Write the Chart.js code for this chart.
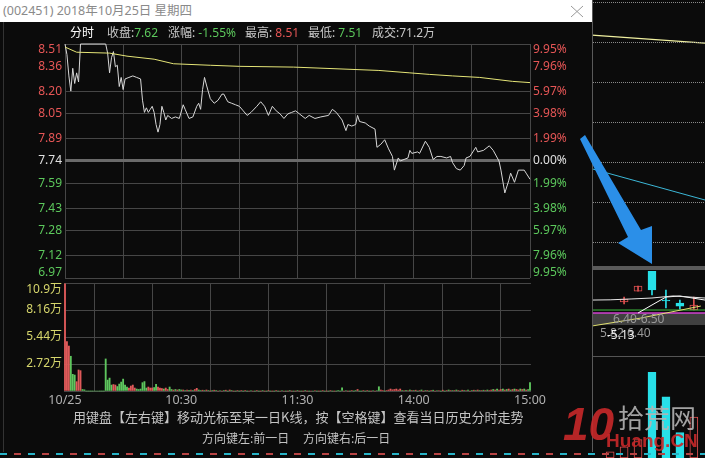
<!DOCTYPE html>
<html>
<head>
<meta charset="utf-8">
<script src="https://cdn.jsdelivr.net/npm/chart.js@4.4.0/dist/chart.umd.min.js"></script>
<style>
html, body { margin: 0; padding: 0; background: #0b0b0b; }
#stage { position: relative; width: 705px; height: 458px; overflow: hidden; background: #0b0b0b;
         font-family: "Noto Sans", "Noto Sans CJK SC", sans-serif; }
.abs { position: absolute; white-space: nowrap; }
.cw { position: absolute; }
#title { left: 0; top: 0; width: 592px; height: 22px; background: #fff; }
#titleText { left: 3px; top: 2px; font-size: 12.5px; line-height: 18px; color: #8a8a8a; }
.hd { top: 25px; font-size: 12px; line-height: 16px; color: #c8c8c8; }
.g { color: #5cc85c; }
.r { color: #e65656; }
.w { color: #ffffff; }
.tip { font-size: 13px; line-height: 18px; color: #c4c4c4; font-family: "Noto Sans CJK SC", sans-serif; }
.tip2 { font-size: 12px; line-height: 16px; color: #c4c4c4; font-family: "Noto Sans CJK SC", sans-serif; }
</style>
</head>
<body>
<div id="stage">
    <!-- background k-line panels on the right -->
    <div class="cw" style="left:592px;top:0;width:113px;height:268px"><canvas id="bgTop"></canvas></div>
    <div class="abs" style="left:592px;top:266px;width:113px;height:4px;background:#5a5a5a"></div>
    <div class="abs" style="left:592px;top:313px;width:113px;height:12px;background:rgba(110,110,110,0.55)"></div>
    <div class="cw" style="left:592px;top:271px;width:113px;height:85px"><canvas id="bgMid"></canvas></div>
    <div class="cw" style="left:592px;top:356px;width:113px;height:102px"><canvas id="bgVol"></canvas></div>
    <div class="abs" style="left:613px;top:311px;font-size:12px;line-height:16px;color:#9a9a9a">6.40-6.50</div>
    <div class="abs" style="left:600px;top:325px;font-size:12px;line-height:16px;color:#9a9a9a">5.82 6.40</div>
    <div class="abs" style="left:607px;top:327px;font-size:12px;line-height:16px;color:#f0f0f0">-5.13</div>

    <!-- popup -->
    <div class="abs" id="title"></div>
    <div class="abs" id="titleText">(002451) 2018年10月25日 星期四</div>
    <svg class="abs" style="left:0;top:0" width="705" height="458">
        <line x1="571" y1="6" x2="583" y2="17" stroke="#9a9a9a" stroke-width="1"/>
        <line x1="583" y1="6" x2="571" y2="17" stroke="#9a9a9a" stroke-width="1"/>
        <line x1="592.5" y1="0" x2="592.5" y2="452" stroke="#5a5a5a" stroke-width="1"/>
        <line x1="3.5" y1="22" x2="3.5" y2="452" stroke="#333" stroke-width="1"/>
    </svg>

    <div class="abs hd w" style="left:70px">分时</div>
    <div class="abs hd" style="left:107px">收盘:<span class="g">7.62</span></div>
    <div class="abs hd" style="left:168px">涨幅: <span class="g">-1.55%</span></div>
    <div class="abs hd" style="left:245px">最高: <span class="r">8.51</span></div>
    <div class="abs hd" style="left:308px">最低: <span class="g">7.51</span></div>
    <div class="abs hd" style="left:372px">成交:71.2万</div>

    <div class="cw" style="left:0;top:0;width:592px;height:458px"><canvas id="priceChart"></canvas></div>
    <div class="cw" style="left:0;top:0;width:592px;height:458px"><canvas id="volChart"></canvas></div>

    <div class="abs tip" style="left:73px;top:408px">用键盘【左右键】移动光标至某一日K线，按【空格键】查看当日历史分时走势</div>
    <div class="abs tip2" style="left:202px;top:430px">方向键左:前一日</div>
    <div class="abs tip2" style="left:303px;top:430px">方向键右:后一日</div>

    <div class="abs" style="left:0;top:453px;width:705px;height:2px;
        background:repeating-linear-gradient(90deg,#28b4c8 0 7px,transparent 7px 14px,#b84444 14px 21px,transparent 21px 28px)"></div>

    <!-- watermark -->
    <div class="abs" style="left:563px;top:398px;font-size:46px;line-height:52px;font-weight:bold;font-style:italic;color:#c8282a;opacity:0.9;font-family:'Liberation Sans',sans-serif">10</div>
    <div class="abs" style="left:618px;top:402px;font-size:26px;line-height:30px;color:#b4b4b4;font-family:'Noto Sans CJK SC',sans-serif;opacity:0.9">拾荒网</div>
    <div class="abs" style="left:606px;top:429px;font-size:19px;line-height:24px;font-weight:bold;color:#c8282a;font-family:'Liberation Sans',sans-serif;opacity:0.9">Huang.CN</div>

    <!-- arrow -->
    <svg class="abs" style="left:0;top:0" width="705" height="458">
        <polygon points="585,135 641,230 652,226 652,264 618,243 628,237 580,139" fill="#2b8fe8"/>
    </svg>
</div>

<script>
// intraday data, 002451 on 2018-10-25 (minutes after 9:30)
const preClose = 7.74;
const priceMin = [0, 1, 2, 3, 4, 5, 6, 7, 8, 21, 22, 23, 24, 25, 26, 27, 28, 29, 30, 31, 33, 35, 37, 39,
    40, 41, 42, 43, 44, 45, 46, 47, 48, 49, 50, 51, 52, 53, 55, 57, 59, 61, 62, 64, 66, 68, 69, 70,
    71, 72, 73, 75, 77, 79, 81, 82, 84, 86, 88, 90, 92, 94, 96, 99, 101, 103, 105, 107, 109, 111,
    113, 115, 117, 119, 121, 124, 126, 129, 132, 136, 138, 140, 143, 145, 146, 148, 150, 151, 152,
    155, 157, 160, 161, 163, 165, 167, 169, 170, 172, 173, 175, 177, 178, 179, 182, 183, 186, 188,
    190, 192, 194, 197, 199, 200, 202, 204, 206, 207, 209, 212, 213, 216, 219, 221, 224, 225, 227,
    229, 230, 232, 234, 237, 238, 240];
const priceVal = [8.51, 8.44, 8.30, 8.20, 8.35, 8.25, 8.32, 8.26, 8.51, 8.51, 8.45, 8.32, 8.42, 8.46,
    8.36, 8.37, 8.23, 8.29, 8.21, 8.28, 8.29, 8.30, 8.29, 8.28,
    8.14, 8.06, 8.09, 8.06, 8.08, 8.10, 8.06, 7.98, 7.93, 7.98, 8.10, 8.06, 8.01, 8.04, 8.02, 8.03,
    8.02, 8.11, 8.08, 8.02, 8.03, 8.10, 8.12, 8.08,
    8.21, 8.29, 8.24, 8.15, 8.12, 8.14, 8.18, 8.18, 8.13, 8.12, 8.11, 8.10, 8.07, 8.04, 8.06, 8.10,
    8.13, 8.10, 8.04, 8.10, 8.07, 8.05,
    8.02, 8.05, 8.06, 8.07, 8.05, 8.02, 8.04, 8.02, 8.03, 8.04, 8.08, 8.06, 8.01, 7.94, 7.98, 7.97,
    7.98, 8.04, 8.00,
    7.99, 7.97, 7.95, 7.83, 7.85, 7.88, 7.82, 7.77, 7.68, 7.76, 7.74, 7.75, 7.76, 7.81, 7.79, 7.80,
    7.79, 7.87, 7.83,
    7.75, 7.77, 7.77, 7.76, 7.77, 7.73, 7.69, 7.68, 7.71, 7.76, 7.77, 7.83, 7.80, 7.81, 7.84, 7.81,
    7.74, 7.68, 7.53,
    7.61, 7.66, 7.60, 7.68, 7.68, 7.66, 7.62];
const avgMin = [0, 6, 23, 32, 46, 56, 75, 90, 118, 162, 178, 188, 200, 214, 231, 240];
const avgVal = [8.49, 8.456, 8.45, 8.43, 8.41, 8.38, 8.37, 8.363, 8.358, 8.336, 8.32, 8.31, 8.30,
    8.29, 8.264, 8.256];

// volume per minute, in 万 shares
const volumes = [
    10.8, 4.97, 4.53, 3.5, 1.68, 1.61, 0.94, 2.12, 2.05, 0.15,
    0.12, 0, 0, 0, 0, 0, 0, 0, 0, 0,
    0, 3.23, 1.1, 1.3, 0.6, 0.65, 0.6, 0.45, 0.7, 0.9,
    1.2, 0.6, 0.4, 0.3, 0.5, 0.6, 0.3, 0.2, 0.15, 0.2,
    0.84, 0.95, 0.3, 0.4, 0.3, 0.3, 0.35, 0.67, 0.4, 0.3,
    0.25, 0.2, 0.3, 0.15, 0.4, 0.15, 0.1, 0.15, 0.1, 0.15,
    0.1, 0.1, 0.05, 0.1, 0.08, 0.1, 0.05, 0.15, 0.27, 0.1,
    0.05, 0.08, 0.05, 0.1, 0.05, 0, 0.05, 0.08, 0.05, 0,
    0.05, 0, 0.05, 0.08, 0, 0.1, 0.05, 0, 0, 0.05,
    0, 0.05, 0, 0.05, 0, 0, 0.05, 0, 0, 0.05,
    0, 0, 0.05, 0, 0, 0.05, 0, 0, 0, 0.05,
    0, 0, 0.05, 0, 0, 0, 0.05, 0, 0, 0,
    0.05, 0, 0, 0, 0.05, 0, 0, 0, 0, 0.05,
    0, 0, 0, 0.05, 0, 0, 0, 0.05, 0, 0,
    0, 0.05, 0, 0.33, 0, 0.05, 0, 0, 0.05, 0,
    0.05, 0.15, 0, 0, 0.05, 0, 0.05, 0, 0, 0.05,
    0, 0.05, 0.43, 0.1, 0.05, 0, 0.05, 0.1, 0.2, 0.12,
    0.15, 0.2, 0.1, 0.2, 0.05, 0.05, 0.08, 0.05, 0.1, 0.05,
    0.05, 0.08, 0, 0.05, 0.1, 0, 0.05, 0.05, 0, 0.05,
    0.08, 0, 0.05, 0.05, 0, 0.08, 0, 0.05, 0.1, 0.05,
    0.05, 0.05, 0.1, 0.05, 0, 0.08, 0.05, 0.05, 0.1, 0,
    0.05, 0.08, 0.05, 0.1, 0.05, 0.05, 0.08, 0.05, 0.1, 0.05,
    0.1, 0.15, 0.1, 0.2, 0.1, 0.15, 0.2, 0.1, 0.15, 0.2,
    0.1, 0.15, 0.2, 0.15, 0.1, 0.2, 0.15, 0.2, 0.1, 0.15,
    0.84];
const volSide = ('rrrgggrrrg' + 'gggggggggg' + 'gggggrrggg' + 'gggrrrrggg' + 'gggrrrggrr' +
    'rgrrggrgrg' + 'grgrgrgrrg' + 'grgrgrgrgr'.repeat(7) + 'ggggrgrgrg' + 'grggrgrgrg' +
    'rggrrgrrrr' + 'rrrrgrgrgr' + 'grgrgrgrgr'.repeat(4) + 'rgrgrrgrgr' + 'grgrrgrgrg' + 'g').split('');

// axis labels
const priceTicks = [8.51, 8.36, 8.20, 8.05, 7.89, 7.74, 7.59, 7.43, 7.28, 7.12, 6.97];
const pctTicks = ['9.95%', '7.96%', '5.97%', '3.98%', '1.99%', '0.00%', '1.99%', '3.98%', '5.97%', '7.96%', '9.95%'];
const volTicks = [10.88, 8.16, 5.44, 2.72, 0];
const volTickLabels = ['10.9万', '8.16万', '5.44万', '2.72万', ''];
const timeGrid = [0, 30, 60, 90, 120, 150, 180, 210, 240];
const timeTickMin = [0, 60, 120, 180, 240];
const timeTickLabels = ['10/25', '10:30', '11:30', '14:00', '15:00'];

// background daily chart (days around the selected one)
const bgLineDays = [-0.3, 7.8];
const bgYellow = [5.17, 4.97];
const bgCyan = [1.83, 1.05];
const bgGridLevels = [0, 1, 2, 3, 4, 5, 6];
const candleDay = [2, 3, 4, 5, 6, 7];
const candleOpen = [6.592, 6.683, 6.85, 6.608, 6.583, 6.525];
const candleClose = [6.617, 6.725, 6.692, 6.600, 6.558, 6.567];
const candleHigh = [6.633, 6.725, 6.85, 6.692, 6.608, 6.633];
const candleLow = [6.575, 6.683, 6.65, 6.542, 6.533, 6.525];
const ma1Days = [-0.3, 1, 2.5, 4, 5.5, 7.8];
const ma1 = [6.608, 6.610, 6.617, 6.625, 6.642, 6.625];
const ma2Days = [3, 4, 5, 6, 7.8];
const ma2 = [6.50, 6.567, 6.633, 6.642, 6.608];
const ma3Days = [-0.3, 3.2, 7.5];
const ma3 = [6.392, 6.458, 6.558];
const maGreen = [6.525, 6.525];
const maPink = [6.50, 6.50];
const bgVolDay = [1, 2, 3, 4, 5, 6, 7];
const bgVol = [6, 11, 18, 84, 60, 25, 40];

const RED = '#e65656', GREEN = '#5cc85c', WHITE = '#e0e0e0';
const GRID = '#464646';
const NUM_FONT = '12px "Noto Sans", "Noto Sans CJK SC"';

Chart.defaults.font.family = '"Noto Sans", "Noto Sans CJK SC", sans-serif';

const zip = (xs, ys) => xs.map((x, i) => ({ x: x, y: ys[i] }));
const setTicks = values => scale => { scale.ticks = values.map(v => ({ value: v })); };

const priceLabels = {
    id: 'priceLabels',
    afterDraw(chart) {
        const { ctx, chartArea: a, scales: { y } } = chart;
        ctx.save();
        ctx.font = NUM_FONT;
        ctx.textBaseline = 'middle';
        priceTicks.forEach((v, i) => {
            let py = y.getPixelForValue(v);
            py = Math.min(Math.max(py, a.top + 6), a.bottom - 5);
            ctx.fillStyle = v > preClose ? RED : (v < preClose ? GREEN : WHITE);
            ctx.textAlign = 'right';
            ctx.fillText(v.toFixed(2), a.left - 3, py);
            ctx.textAlign = 'left';
            ctx.fillText(pctTicks[i], a.right + 3, py);
        });
        ctx.restore();
    }
};

const volLabels = {
    id: 'volLabels',
    afterDraw(chart) {
        const { ctx, chartArea: a, scales: { x, y } } = chart;
        const left = x.getPixelForValue(0);
        ctx.save();
        ctx.font = NUM_FONT;
        ctx.textBaseline = 'middle';
        ctx.textAlign = 'right';
        ctx.fillStyle = '#d6d66c';
        volTicks.forEach((v, i) => {
            const py = Math.max(y.getPixelForValue(v), a.top + 7);
            ctx.fillText(volTickLabels[i], left - 3, py);
        });
        ctx.textAlign = 'center';
        ctx.fillStyle = '#b0b0b0';
        ctx.font = '12.5px "Noto Sans"';
        timeTickMin.forEach((m, i) => {
            ctx.fillText(timeTickLabels[i], x.getPixelForValue(m), a.bottom + 9);
        });
        ctx.restore();
    }
};

// dotted horizontal levels of the background indicator panel
const dottedLevels = {
    id: 'dottedLevels',
    afterDraw(chart) {
        const { ctx, chartArea: a, scales: { y } } = chart;
        ctx.save();
        ctx.fillStyle = '#8a8a8a';
        bgGridLevels.forEach(v => {
            const py = Math.round(y.getPixelForValue(v));
            for (let px = Math.round(a.left) + 1; px < a.right; px += 2) ctx.fillRect(px, py, 1, 1);
        });
        ctx.restore();
    }
};

function gridAxis(extra) {
    return Object.assign({
        ticks: { display: false },
        grid: { color: GRID, drawTicks: false },
        border: { display: false }
    }, extra);
}

function baseOptions(padding, scales) {
    return {
        animation: false,
        responsive: true,
        maintainAspectRatio: false,
        layout: { padding: padding },
        plugins: { legend: { display: false }, tooltip: { enabled: false } },
        scales: scales
    };
}

// price + average line
new Chart(document.getElementById('priceChart'), {
    type: 'line',
    data: {
        datasets: [
            { data: zip(avgMin, avgVal), borderColor: '#e6e678', borderWidth: 1, pointRadius: 0, clip: 3 },
            { data: zip(priceMin, priceVal), borderColor: '#d8d8d8', borderWidth: 1, pointRadius: 0, clip: 3 }
        ]
    },
    options: baseOptions({ left: 65, right: 62, top: 44, bottom: 180 }, {
        x: gridAxis({ type: 'linear', min: 0, max: 240, afterBuildTicks: setTicks(timeGrid) }),
        y: gridAxis({
            min: 6.97, max: 8.51,
            afterBuildTicks: setTicks(priceTicks),
            grid: {
                drawTicks: false,
                color: c => c.tick.value === 7.74 ? '#6a6a6a' : (c.tick.value === 8.36 ? 'rgba(0,0,0,0)' : GRID),
                lineWidth: c => c.tick.value === 7.74 ? 3 : 1
            }
        })
    }),
    plugins: [priceLabels]
});

// volume bars; half a minute of slack either side keeps the edge bars inside the plot
new Chart(document.getElementById('volChart'), {
    type: 'bar',
    data: {
        datasets: [{
            data: zip(volumes.map((v, i) => i), volumes),
            backgroundColor: volSide.map(s => s === 'r' ? '#e05a5a' : '#5ec65e'),
            barThickness: 1.2,
            clip: false
        }]
    },
    options: baseOptions({ left: 64.03, right: 61.03, top: 283, bottom: 67 }, {
        x: gridAxis({ type: 'linear', min: -0.5, max: 240.5, offset: false, afterBuildTicks: setTicks(timeGrid) }),
        y: gridAxis({ min: 0, max: 10.88, afterBuildTicks: setTicks(volTicks) })
    }),
    plugins: [volLabels]
});

// background: indicator panel
const hiddenX = { type: 'linear', min: -0.3, max: 7.8, display: false, offset: false };
new Chart(document.getElementById('bgTop'), {
    type: 'line',
    data: {
        datasets: [
            { data: zip(bgLineDays, bgYellow), borderColor: '#f0f0a0', borderWidth: 1.2, pointRadius: 0 },
            { data: zip(bgLineDays, bgCyan), borderColor: '#3cb8d8', borderWidth: 1, pointRadius: 0 }
        ]
    },
    options: baseOptions(0, {
        x: hiddenX,
        y: { min: -0.65, max: 6.05, display: false }
    }),
    plugins: [dottedLevels]
});

// background: candles and moving averages
const upColor = '#e05050', downColor = '#28e0e8';
const candleUp = candleOpen.map((o, i) => candleClose[i] >= o);
new Chart(document.getElementById('bgMid'), {
    type: 'bar',
    data: {
        datasets: [
            { type: 'line', data: zip(ma1Days, ma1), borderColor: '#e8e8e8', borderWidth: 1, pointRadius: 0 },
            { type: 'line', data: zip(ma2Days, ma2), borderColor: '#ffffff', borderWidth: 1, pointRadius: 0 },
            { type: 'line', data: zip(ma3Days, ma3), borderColor: '#e0e070', borderWidth: 1, pointRadius: 0 },
            { type: 'line', data: zip(bgLineDays, maGreen), borderColor: '#40c040', borderWidth: 1, pointRadius: 0 },
            { type: 'line', data: zip(bgLineDays, maPink), borderColor: '#d040d0', borderWidth: 1.5, pointRadius: 0 },
            {
                data: candleDay.map((d, i) => ({ x: d, y: [candleLow[i], candleHigh[i]] })),
                backgroundColor: candleUp.map(u => u ? upColor : downColor),
                barThickness: 1, stack: 'k'
            },
            {
                data: candleDay.map((d, i) => ({ x: d, y: [candleOpen[i], candleClose[i]] })),
                backgroundColor: candleUp.map(u => u ? '#0b0b0b' : downColor),
                borderColor: candleUp.map(u => u ? upColor : downColor),
                borderWidth: 1, borderSkipped: false, barThickness: 8, stack: 'k'
            }
        ]
    },
    options: baseOptions(0, {
        x: hiddenX,
        y: { min: 6.142, max: 6.85, display: false, stacked: false }
    })
});

// background: daily volume
new Chart(document.getElementById('bgVol'), {
    type: 'bar',
    data: {
        datasets: [{
            data: zip(bgVolDay, bgVol),
            backgroundColor: bgVol.map((v, i) => i >= 3 && i <= 5 ? downColor : '#0b0b0b'),
            borderColor: bgVol.map((v, i) => i >= 3 && i <= 5 ? downColor : upColor),
            borderWidth: 1, borderSkipped: false, barThickness: 8
        }]
    },
    options: baseOptions(0, {
        x: hiddenX,
        y: {
            min: 0, max: 100,
            afterBuildTicks: setTicks([99.5]),
            ticks: { display: false },
            grid: { color: '#555', drawTicks: false },
            border: { display: false }
        }
    })
});
</script>
</body>
</html>
